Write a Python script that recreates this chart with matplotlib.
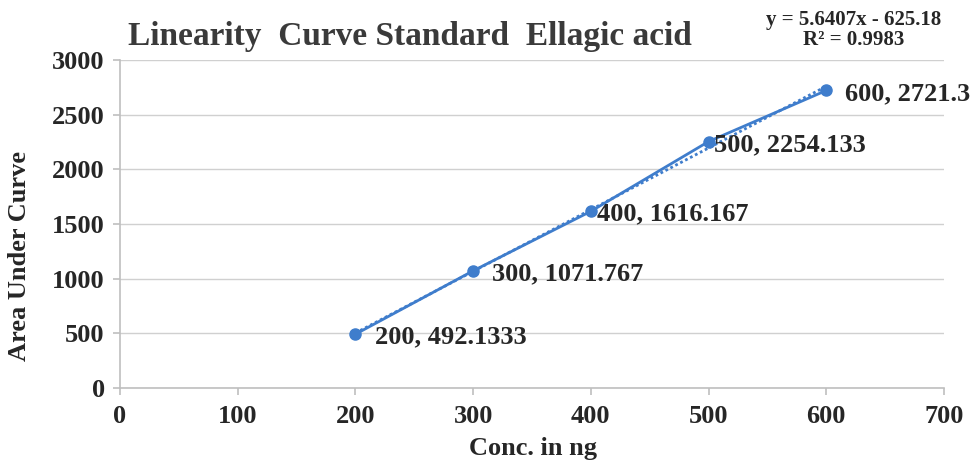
import matplotlib
matplotlib.use("Agg")
import matplotlib.pyplot as plt
import numpy as np

conc = [200, 300, 400, 500, 600]
area = [492.1333, 1071.767, 1616.167, 2254.133, 2721.3]
point_labels = ["200, 492.1333", "300, 1071.767", "400, 1616.167", "500, 2254.133", "600, 2721.3"]
slope, intercept = 5.6407, -625.18
r2 = 0.9983
x_ticks = [0, 100, 200, 300, 400, 500, 600, 700]
y_ticks = [0, 500, 1000, 1500, 2000, 2500, 3000]

# horizontal label offsets (pixels) as placed in the reference
label_dx = [20, 19, 6, 5, 19]

plt.rcParams['font.family'] = ['Liberation Serif', 'DejaVu Serif']
plt.rcParams['font.weight'] = 'bold'

blue = '#3F7DCC'
fig = plt.figure(figsize=(9.75, 4.62), dpi=100)
ax = fig.add_axes([120/975, 1-388/462, (944-120)/975, (388-60)/462])

ax.plot(conc, area, color=blue, lw=2, marker='o', ms=8, zorder=3)
tx = np.array([conc[0], conc[-1]], dtype=float)
ax.plot(tx, slope*tx + intercept, color=blue, lw=2, ls=(0, (1, 1)), zorder=2)

for x, y, lab, dx in zip(conc, area, point_labels, label_dx):
    ax.annotate(lab, (x, y), xytext=(dx, -3), textcoords='offset pixels',
                ha='left', va='center', fontsize=19, fontweight='bold', color='#262626')

ax.set_xlim(0, 700)
ax.set_ylim(0, 3000)
ax.set_xticks(x_ticks)
ax.set_yticks(y_ticks)
ax.grid(axis='y', color='#D0D0D0', lw=1)
ax.set_axisbelow(True)
for s in ['top', 'right']:
    ax.spines[s].set_visible(False)
for s in ['left', 'bottom']:
    ax.spines[s].set_color('#BFBFBF')
    ax.spines[s].set_linewidth(1.2)
ax.tick_params(axis='both', colors='#BFBFBF', labelcolor='#262626', labelsize=19, length=5, width=1.2)
ax.tick_params(axis='x', pad=7)
ax.tick_params(axis='y', pad=6)
for lab in ax.get_xticklabels() + ax.get_yticklabels():
    lab.set_fontweight('bold')

fig.text(20/975, 1-256/462, 'Area Under Curve', rotation=90, ha='center', va='center',
         fontsize=19, fontweight='bold', color='#262626')
fig.text(533/975, 1-449/462, 'Conc. in ng', ha='center', va='center',
         fontsize=19, fontweight='bold', color='#262626')
fig.text(410/975, 1-37/462, 'Linearity  Curve Standard  Ellagic acid', ha='center', va='center',
         fontsize=24, fontweight='bold', color='#3A3A3A')
fig.text(854/975, 1-30/462, f'y = {slope}x - {abs(intercept)}\nR\u00b2 = {r2}', ha='center', va='center',
         fontsize=15, fontweight='bold', color='#262626', linespacing=1.05)

fig.savefig('out.png', dpi=100, facecolor='white')
